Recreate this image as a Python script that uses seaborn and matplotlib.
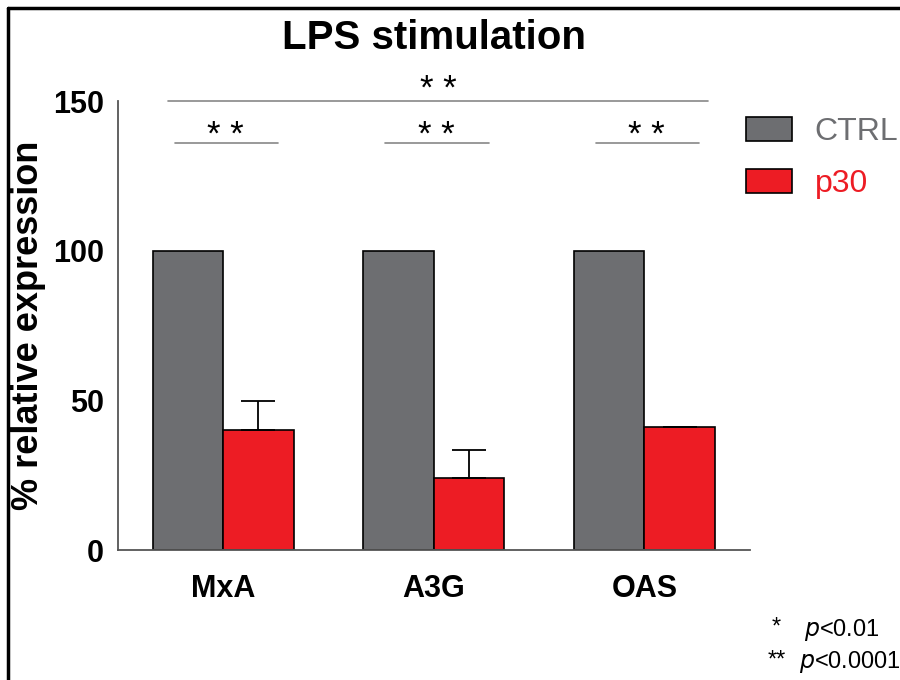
import matplotlib
matplotlib.use('Agg')
import matplotlib.pyplot as plt
import matplotlib.patches as mpatches
from matplotlib.lines import Line2D
import pandas as pd
import seaborn as sns

# Data
genes = ['MxA', 'A3G', 'OAS']
groups = ['CTRL', 'p30']
ctrl_values = [100, 100, 100]
p30_values = [40, 24, 41]
p30_err = [10, 9.5, 0.3]

gray = '#6D6E71'
red = '#ED1C24'

df = pd.DataFrame({
    'gene': genes * 2,
    'group': ['CTRL'] * 3 + ['p30'] * 3,
    'value': ctrl_values + p30_values,
})

sns.set_style('white')
plt.rcParams['font.family'] = ['Liberation Sans', 'DejaVu Sans']
plt.rcParams['text.color'] = 'black'
plt.rcParams['xtick.color'] = 'black'
plt.rcParams['ytick.color'] = 'black'
plt.rcParams['axes.labelcolor'] = 'black'

fig = plt.figure(figsize=(9, 6.8), dpi=100)
ax = fig.add_axes([0.131, 0.191, 0.702, 0.66])

sns.barplot(data=df, x='gene', y='value', hue='group', palette=[gray, red],
            saturation=1, width=0.67, edgecolor='black', linewidth=1.2,
            errorbar=None, legend=False, ax=ax)

# upper error bars on the p30 bars
p30_bars = [p for p in ax.patches if p.get_height() > 0][3:6]
for bar, v, e in zip(p30_bars, p30_values, p30_err):
    xc = bar.get_x() + bar.get_width() / 2
    ax.errorbar([xc], [v], yerr=[[0], [e]], fmt='none', ecolor='black',
                elinewidth=1.3, capsize=12, capthick=1.3, zorder=1)

ax.set_xlim(-0.5, 2.5)
ax.set_ylim(0, 150)
ax.set_yticks([0, 50, 100, 150])
ax.set_xlabel('')
ax.set_ylabel('% relative expression', fontsize=26, fontweight='bold', labelpad=5)
for lab in ax.get_xticklabels() + ax.get_yticklabels():
    lab.set_fontweight('bold')
    lab.set_fontsize(22)
ax.tick_params(axis='both', direction='out', length=7, width=1.2, color='#555555', pad=3)
ax.tick_params(axis='x', length=11, pad=6)
for side in ['top', 'right']:
    ax.spines[side].set_visible(False)
for side in ['left', 'bottom']:
    ax.spines[side].set_color('#555555')
    ax.spines[side].set_linewidth(1.3)

ax.set_title('LPS stimulation', fontsize=29, fontweight='bold', pad=38)

# significance brackets
line_kw = dict(color='#888888', linewidth=1.2, clip_on=False)
ax.plot([-0.26, 2.30], [150, 150], **line_kw)
ax.text(1.02, 148.3, '* *', ha='center', va='bottom', fontsize=25, clip_on=False)
for i in range(3):
    ax.plot([i - 0.23, i + 0.26], [136, 136], **line_kw)
    ax.text(i + 0.01, 133.0, '* *', ha='center', va='bottom', fontsize=25, clip_on=False)

# legend
handles = [mpatches.Patch(facecolor=c, edgecolor='black', linewidth=1.2) for c in [gray, red]]
leg = fig.legend(handles, groups, loc='upper left', bbox_to_anchor=(0.829, 0.828),
                 frameon=False, fontsize=23, handlelength=1.45, handleheight=0.78,
                 labelspacing=0.68, handletextpad=0.7, borderpad=0, borderaxespad=0)
for txt, c in zip(leg.get_texts(), [gray, red]):
    txt.set_color(c)

# footnote
fig.text(0.857, 0.068, '*', fontsize=17, ha='left')
fig.text(0.893, 0.065, r'$\it{p}$<0.01', fontsize=17, ha='left')
fig.text(0.853, 0.020, '**', fontsize=17, ha='left')
fig.text(0.888, 0.017, r'$\it{p}$<0.0001', fontsize=17, ha='left')

# partial frame (top and left)
fig.add_artist(Line2D([0.009, 0.009], [0, 0.988], color='black', linewidth=2.5))
fig.add_artist(Line2D([0.009, 1.0], [0.988, 0.988], color='black', linewidth=2.5))

fig.savefig('out.png', dpi=100)
